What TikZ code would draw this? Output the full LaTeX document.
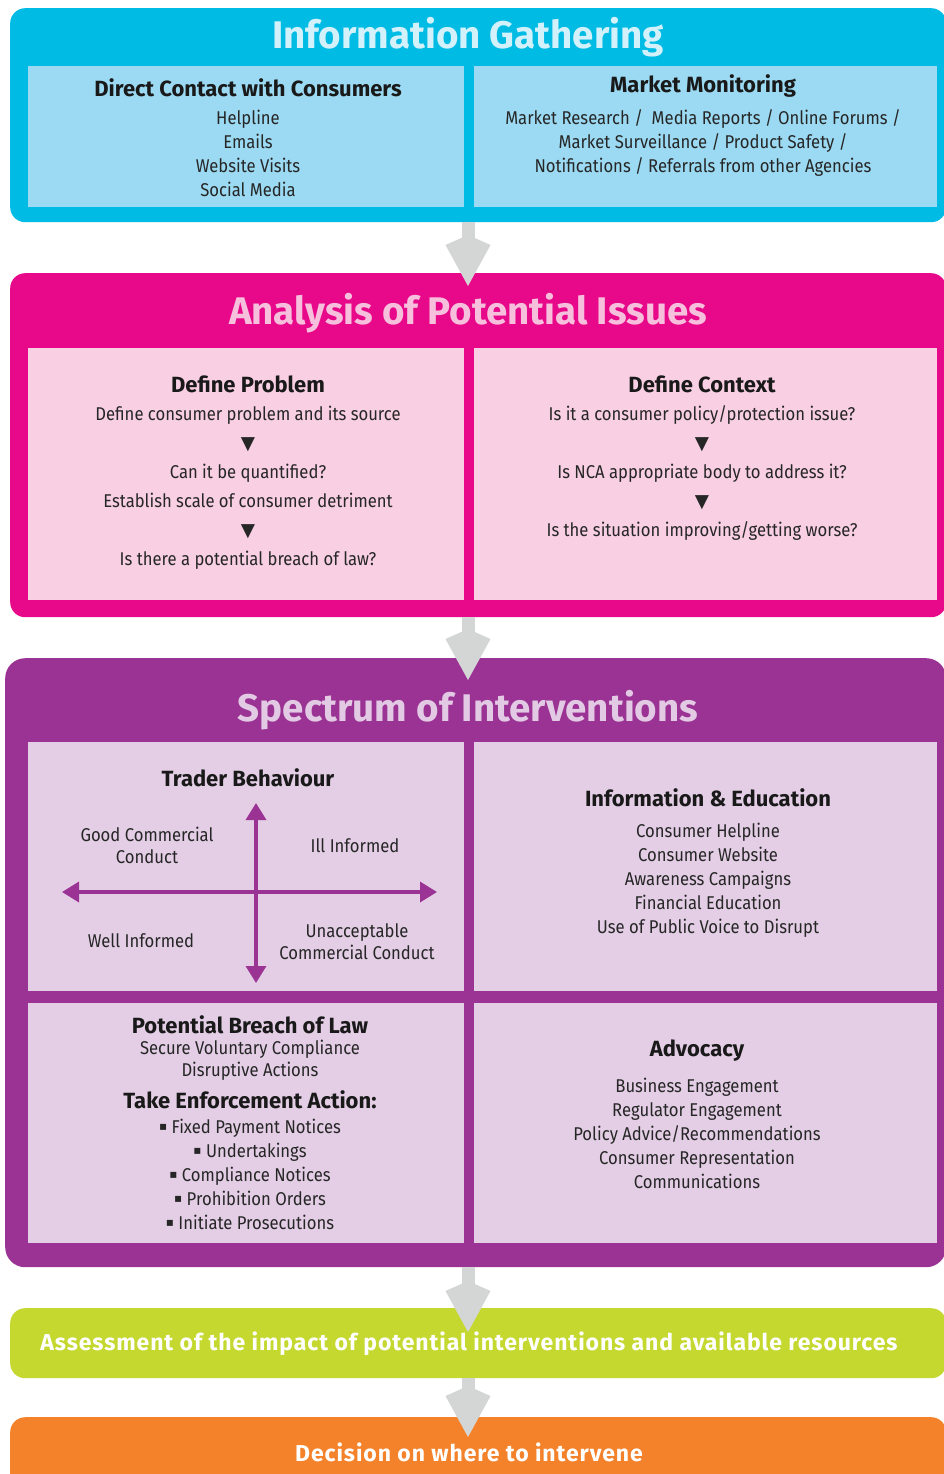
\documentclass[tikz,border=0pt]{standalone}
\usepackage{fontspec}
\setmainfont{Fira Sans}[FakeStretch=0.9]
\newfontfamily\titlefont{Fira Sans}
\newfontfamily\bannerfont{Fira Sans}[LetterSpace=4]
\newfontfamily\symfont{DejaVu Sans}
\usetikzlibrary{arrows.meta, positioning}

\definecolor{gathercyan}{RGB}{0,188,228}
\definecolor{gatherpale}{RGB}{155,218,242}
\definecolor{gatherlight}{RGB}{210,241,251}
\definecolor{issuemagenta}{RGB}{232,8,138}
\definecolor{issuepale}{RGB}{248,207,227}
\definecolor{issuelight}{RGB}{246,192,221}
\definecolor{spectrumpurple}{RGB}{155,51,148}
\definecolor{spectrumpale}{RGB}{227,206,229}
\definecolor{spectrumlight}{RGB}{227,202,228}
\definecolor{assessgreen}{RGB}{196,216,47}
\definecolor{decideorange}{RGB}{244,130,43}
\definecolor{flowgray}{RGB}{212,213,213}

\newcommand{\sqbullet}{\raisebox{2.5pt}{\symfont\fontsize{12}{12}\selectfont ▪}}

\begin{document}
\begin{tikzpicture}[x=1pt, y=-1pt,
    block/.style={rectangle, rounded corners=15pt, inner sep=0pt, anchor=north west},
    panel/.style={rectangle, inner sep=0pt, anchor=north west},
    bigtitle/.style={font=\titlefont\bfseries\fontsize{38.5}{40}\selectfont},
    head/.style={font=\titlefont\bfseries\fontsize{22}{24}\selectfont, text=black!90},
    body/.style={align=center, font=\fontsize{18.5}{24}\selectfont, text=black!85},
    banner/.style={font=\bannerfont\bfseries\fontsize{23}{26}\selectfont, text=white},
    flow/.style={draw=flowgray, line width=13pt, -{Kite[length=51pt, width=45pt, inset=10pt]}},
    axis/.style={draw=spectrumpurple, line width=3.5pt,
        {Triangle[width=20pt, length=17pt]}-{Triangle[width=20pt, length=17pt]}}
]
    \path[use as bounding box, clip] (0,0) rectangle (944,1474);
    \fill[white] (0,0) rectangle (944,1474);

    % information gathering
    \node[block, fill=gathercyan, minimum width=936pt, minimum height=214pt] (gather) at (10,8) {};
    \node[bigtitle, text=gatherlight] (gathertitle) at (468,37) {Information Gathering};
    \node[panel, fill=gatherpale, minimum width=436pt, minimum height=141pt] (contact) at (28,66) {};
    \node[panel, fill=gatherpale, minimum width=463pt, minimum height=141pt] (monitor) at (474,66) {};
    \node[head] (contacthead) at (248,88) {Direct Contact with Consumers};
    \node[body] (contactlist) at (248,153) {Helpline\\Emails\\Website Visits\\Social Media};
    \node[head] (monitorhead) at (703,86) {Market Monitoring};
    \node[body] (monitorlist) at (703,143) {Market Research /\ \ Media Reports / Online Forums /\\
        Market Surveillance / Product Safety /\\
        Notifications / Referrals from other Agencies};

    % analysis of potential issues
    \node[block, fill=issuemagenta, minimum width=936pt, minimum height=344pt] (analysis) at (10,273) {};
    \node[bigtitle, text=issuelight] (analysistitle) at (468,313) {Analysis of Potential Issues};
    \node[panel, fill=issuepale, minimum width=436pt, minimum height=252pt] (problem) at (28,348) {};
    \node[panel, fill=issuepale, minimum width=463pt, minimum height=252pt] (context) at (474,348) {};
    \node[head] (problemhead) at (248,384) {Define Problem};
    \node[body, font=\fontsize{18.5}{29}\selectfont] (problemlist) at (248,488)
        {Define consumer problem and its source\\{\symfont ▼}\\Can it be quantified?\\
        Establish scale of consumer detriment\\{\symfont ▼}\\Is there a potential breach of law?};
    \node[head] (contexthead) at (702,384) {Define Context};
    \node[body, font=\fontsize{18.5}{29}\selectfont] (contextlist) at (702,473)
        {Is it a consumer policy/protection issue?\\{\symfont ▼}\\
        Is NCA appropriate body to address it?\\{\symfont ▼}\\Is the situation improving/getting worse?};

    % spectrum of interventions
    \node[block, rounded corners=20pt, fill=spectrumpurple, minimum width=941pt, minimum height=609pt] (spectrum) at (5,658) {};
    \node[bigtitle, text=spectrumlight] (spectrumtitle) at (468,710) {Spectrum of Interventions};
    \node[panel, fill=spectrumpale, minimum width=436pt, minimum height=249pt] (trader) at (28,742) {};
    \node[panel, fill=spectrumpale, minimum width=463pt, minimum height=249pt] (info) at (474,742) {};
    \node[panel, fill=spectrumpale, minimum width=436pt, minimum height=240pt] (law) at (28,1003) {};
    \node[panel, fill=spectrumpale, minimum width=463pt, minimum height=240pt] (advocacy) at (474,1003) {};

    \node[head] (traderhead) at (248,778) {Trader Behaviour};
    \coordinate (axistop) at (256,803);
    \coordinate (axisbottom) at (256,983);
    \coordinate (axisleft) at (62,892);
    \coordinate (axisright) at (437,892);
    \draw[axis] (axisbottom) -- (axistop);
    \draw[axis] (axisleft) -- (axisright);
    \node[body, font=\fontsize{18.5}{22}\selectfont] (goodconduct) at (147,845) {Good Commercial\\Conduct};
    \node[body] (illinformed) at (355,846) {Ill Informed};
    \node[body] (wellinformed) at (141,941) {Well Informed};
    \node[body, font=\fontsize{18.5}{22}\selectfont] (badconduct) at (357,942) {Unacceptable\\Commercial Conduct};

    \node[head] (infohead) at (708,798) {Information \& Education};
    \node[body] (infolist) at (708,880) {Consumer Helpline\\Consumer Website\\Awareness Campaigns\\
        Financial Education\\Use of Public Voice to Disrupt};

    \node[head] (lawhead) at (250,1025) {Potential Breach of Law};
    \node[body, font=\fontsize{18.5}{22}\selectfont] (lawlist) at (250,1060) {Secure Voluntary Compliance\\Disruptive Actions};
    \node[head] (enforcehead) at (250,1100) {Take Enforcement Action:};
    \node[body] (enforcelist) at (250,1174) {\sqbullet\ Fixed Payment Notices\\\sqbullet\ Undertakings\\
        \sqbullet\ Compliance Notices\\\sqbullet\ Prohibition Orders\\\sqbullet\ Initiate Prosecutions};

    \node[head] (advohead) at (697,1051) {Advocacy};
    \node[body] (advolist) at (697,1133) {Business Engagement\\Regulator Engagement\\
        Policy Advice/Recommendations\\Consumer Representation\\Communications};

    % assessment and decision
    \node[block, fill=assessgreen, minimum width=936pt, minimum height=70pt] (assess) at (10,1308) {};
    \node[banner] (assesstext) at (469,1344) {Assessment of the impact of potential interventions and available resources};
    \node[block, fill=decideorange, minimum width=936pt, minimum height=80pt] (decide) at (10,1417) {};
    \node[banner] (decidetext) at (469,1452) {Decision on where to intervene};

    % grey flow arrows
    \draw[flow, shorten >=-13pt] (gather.south -| gathertitle) -- (analysis.north -| gathertitle);
    \draw[flow, shorten >=-22pt] (analysis.south -| gathertitle) -- (spectrum.north -| gathertitle);
    \draw[flow, shorten >=-24pt] (spectrum.south -| gathertitle) -- (assess.north -| gathertitle);
    \draw[flow, shorten >=-20pt] (assess.south -| gathertitle) -- (decide.north -| gathertitle);
\end{tikzpicture}
\end{document}
